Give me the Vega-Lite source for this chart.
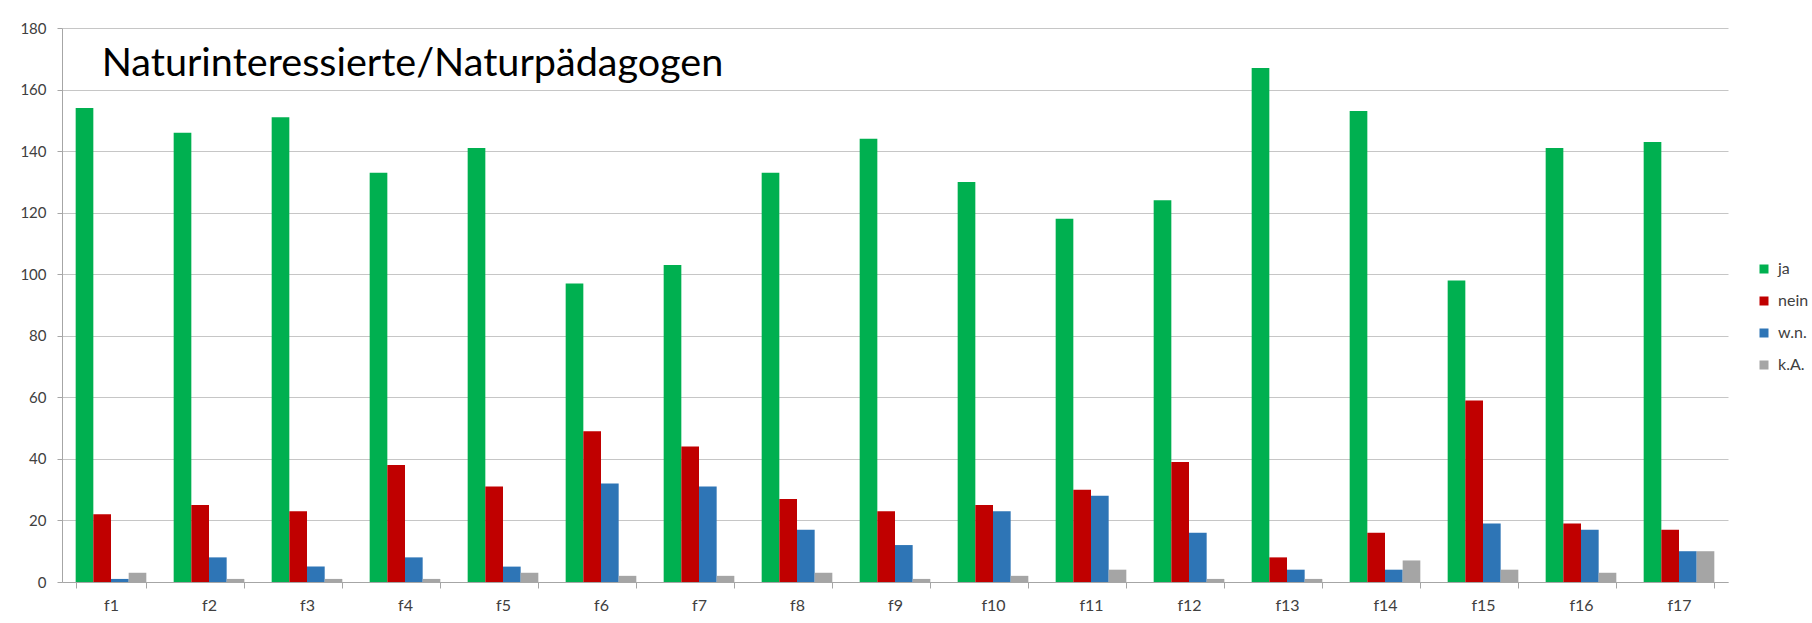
{
  "$schema": "https://vega.github.io/schema/vega-lite/v6.json",
  "autosize": {"type": "none"},
  "width": 1666,
  "height": 554,
  "padding": {"left": 62, "top": 28, "right": 84, "bottom": 41},
  "background": "white",
  "config": {"view": {"stroke": null}, "font": "Lato"},
  "layer": [
    {
      "data": {
        "values": [
          {"f": "f1", "k": "ja", "v": 154}, {"f": "f1", "k": "nein", "v": 22}, {"f": "f1", "k": "w.n.", "v": 1}, {"f": "f1", "k": "k.A.", "v": 3},
          {"f": "f2", "k": "ja", "v": 146}, {"f": "f2", "k": "nein", "v": 25}, {"f": "f2", "k": "w.n.", "v": 8}, {"f": "f2", "k": "k.A.", "v": 1},
          {"f": "f3", "k": "ja", "v": 151}, {"f": "f3", "k": "nein", "v": 23}, {"f": "f3", "k": "w.n.", "v": 5}, {"f": "f3", "k": "k.A.", "v": 1},
          {"f": "f4", "k": "ja", "v": 133}, {"f": "f4", "k": "nein", "v": 38}, {"f": "f4", "k": "w.n.", "v": 8}, {"f": "f4", "k": "k.A.", "v": 1},
          {"f": "f5", "k": "ja", "v": 141}, {"f": "f5", "k": "nein", "v": 31}, {"f": "f5", "k": "w.n.", "v": 5}, {"f": "f5", "k": "k.A.", "v": 3},
          {"f": "f6", "k": "ja", "v": 97}, {"f": "f6", "k": "nein", "v": 49}, {"f": "f6", "k": "w.n.", "v": 32}, {"f": "f6", "k": "k.A.", "v": 2},
          {"f": "f7", "k": "ja", "v": 103}, {"f": "f7", "k": "nein", "v": 44}, {"f": "f7", "k": "w.n.", "v": 31}, {"f": "f7", "k": "k.A.", "v": 2},
          {"f": "f8", "k": "ja", "v": 133}, {"f": "f8", "k": "nein", "v": 27}, {"f": "f8", "k": "w.n.", "v": 17}, {"f": "f8", "k": "k.A.", "v": 3},
          {"f": "f9", "k": "ja", "v": 144}, {"f": "f9", "k": "nein", "v": 23}, {"f": "f9", "k": "w.n.", "v": 12}, {"f": "f9", "k": "k.A.", "v": 1},
          {"f": "f10", "k": "ja", "v": 130}, {"f": "f10", "k": "nein", "v": 25}, {"f": "f10", "k": "w.n.", "v": 23}, {"f": "f10", "k": "k.A.", "v": 2},
          {"f": "f11", "k": "ja", "v": 118}, {"f": "f11", "k": "nein", "v": 30}, {"f": "f11", "k": "w.n.", "v": 28}, {"f": "f11", "k": "k.A.", "v": 4},
          {"f": "f12", "k": "ja", "v": 124}, {"f": "f12", "k": "nein", "v": 39}, {"f": "f12", "k": "w.n.", "v": 16}, {"f": "f12", "k": "k.A.", "v": 1},
          {"f": "f13", "k": "ja", "v": 167}, {"f": "f13", "k": "nein", "v": 8}, {"f": "f13", "k": "w.n.", "v": 4}, {"f": "f13", "k": "k.A.", "v": 1},
          {"f": "f14", "k": "ja", "v": 153}, {"f": "f14", "k": "nein", "v": 16}, {"f": "f14", "k": "w.n.", "v": 4}, {"f": "f14", "k": "k.A.", "v": 7},
          {"f": "f15", "k": "ja", "v": 98}, {"f": "f15", "k": "nein", "v": 59}, {"f": "f15", "k": "w.n.", "v": 19}, {"f": "f15", "k": "k.A.", "v": 4},
          {"f": "f16", "k": "ja", "v": 141}, {"f": "f16", "k": "nein", "v": 19}, {"f": "f16", "k": "w.n.", "v": 17}, {"f": "f16", "k": "k.A.", "v": 3},
          {"f": "f17", "k": "ja", "v": 143}, {"f": "f17", "k": "nein", "v": 17}, {"f": "f17", "k": "w.n.", "v": 10}, {"f": "f17", "k": "k.A.", "v": 10}
        ]
      },
      "mark": {"type": "bar"},
      "encoding": {
        "x": {
          "field": "f",
          "type": "nominal",
          "sort": ["f1","f2","f3","f4","f5","f6","f7","f8","f9","f10","f11","f12","f13","f14","f15","f16","f17"],
          "scale": {"paddingInner": 0.279, "paddingOuter": 0.1395},
          "axis": {
            "title": null,
            "labelAngle": 0,
            "tickBand": "extent",
            "tickSize": 6,
            "tickColor": "#A6A6A6",
            "domainColor": "#A6A6A6",
            "labelFont": "Lato",
            "labelFontSize": 16,
            "labelColor": "#404040",
            "labelPadding": 9,
            "grid": false
          }
        },
        "xOffset": {
          "field": "k",
          "type": "nominal",
          "sort": ["ja", "nein", "w.n.", "k.A."],
          "scale": {"paddingInner": 0, "paddingOuter": 0}
        },
        "y": {
          "field": "v",
          "type": "quantitative",
          "scale": {"domain": [0, 180], "nice": false},
          "axis": {
            "title": null,
            "values": [0, 20, 40, 60, 80, 100, 120, 140, 160, 180],
            "grid": true,
            "gridColor": "#C6C6C6",
            "domain": true,
            "domainColor": "#A6A6A6",
            "ticks": true,
            "tickSize": 5,
            "tickColor": "#A6A6A6",
            "labelFont": "Lato",
            "labelFontSize": 15,
            "labelColor": "#404040",
            "labelPadding": 11
          }
        },
        "color": {
          "field": "k",
          "type": "nominal",
          "sort": ["ja", "nein", "w.n.", "k.A."],
          "scale": {"domain": ["ja", "nein", "w.n.", "k.A."], "range": ["#00B050", "#C00000", "#2E75B6", "#A5A5A5"]},
          "legend": {
            "title": null,
            "orient": "none",
            "legendX": 1694,
            "legendY": 233,
            "symbolType": "square",
            "symbolSize": 81,
            "symbolStrokeWidth": 0,
            "labelFont": "Lato",
            "labelFontSize": 16,
            "labelColor": "#404040",
            "labelOffset": 6,
            "rowPadding": 16
          }
        }
      }
    },
    {
      "data": {"values": [{"t": "Naturinteressierte/Naturpädagogen"}]},
      "mark": {
        "type": "text",
        "align": "left",
        "baseline": "alphabetic",
        "dx": 26,
        "font": "Lato",
        "fontSize": 39.6,
        "fontWeight": "normal",
        "color": "#000000"
      },
      "encoding": {
        "x": {"datum": "f1", "bandPosition": 0},
        "y": {"datum": 164.4},
        "text": {"field": "t", "type": "nominal"}
      }
    }
  ]
}
